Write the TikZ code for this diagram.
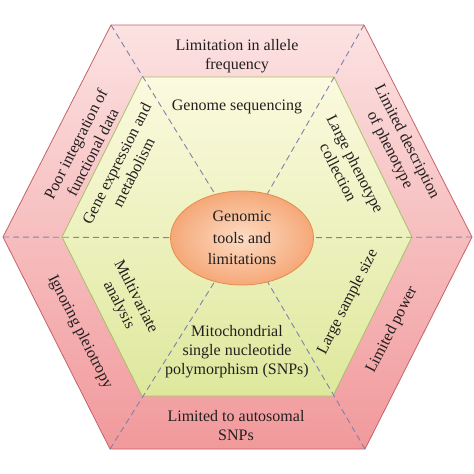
\documentclass[tikz,border=0pt]{standalone}
\usepackage{fontspec}
\setmainfont{Liberation Serif}
\usetikzlibrary{%
  shapes,% ellipse
  positioning%
}
\definecolor{ringtop}{HTML}{FCE2E2}
\definecolor{ringbot}{HTML}{F1999B}
\definecolor{ringline}{HTML}{C4626A}
\definecolor{coretop}{HTML}{FBFADF}
\definecolor{corebot}{HTML}{DEE89C}
\definecolor{coreline}{HTML}{A6C06A}
\definecolor{eggin}{HTML}{FDDCC4}
\definecolor{eggout}{HTML}{F5A878}
\definecolor{eggline}{HTML}{E58C4A}
\definecolor{dashcol}{HTML}{7C82AE}
\definecolor{ink}{HTML}{231F20}

\begin{document}
\begin{tikzpicture}[
  x=1pt, y=-1pt,
  font=\fontsize{16}{19}\selectfont,
  text=ink,
  lbl/.style={align=center, inner sep=0pt},
  sep/.style={draw=dashcol, line width=0.9pt, dash pattern=on 6pt off 4pt},
]
\useasboundingbox (0,0) rectangle (474,474);

\foreach \n/\x/\y in {0/3/237,1/111/25,2/364/25,3/472/237,4/365/449,5/110/449} {
  \coordinate (o\n) at (\x,\y);
}
\foreach \n/\x/\y in {0/62/237,1/142/77,2/334/77,3/412/237,4/333/396,5/142/396} {
  \coordinate (i\n) at (\x,\y);
}

% outer ring and inner hexagon
\draw[top color=ringtop, bottom color=ringbot, draw=ringline, line width=0.8pt]
  (o0) -- (o1) -- (o2) -- (o3) -- (o4) -- (o5) -- cycle;
\draw[top color=coretop, bottom color=corebot, draw=coreline, line width=0.8pt]
  (i0) -- (i1) -- (i2) -- (i3) -- (i4) -- (i5) -- cycle;

\node[ellipse, draw=eggline, line width=0.8pt, inner color=eggin, outer color=eggout,
  minimum width=143pt, minimum height=94pt, lbl,
  font=\fontsize{16}{21.5}\selectfont] (core) at (242,238)
  {Genomic\\tools and\\limitations};

\foreach \n in {0,...,5} {
  \draw[sep] (o\n) -- (core);
}

% outer ring labels
\node[lbl] (allele) at (237,56) {Limitation in allele\\frequency};
\node[lbl, rotate=-63] (descr) at (398,146) {Limited description\\of phenotype};
\node[lbl, rotate=63] (power) at (392,330) {Limited power};
\node[lbl] (autos) at (236,426) {Limited to autosomal\\SNPs};
\node[lbl, rotate=-63] (pleio) at (80,332) {Ignoring pleiotropy};
\node[lbl, rotate=63] (integr) at (84,148) {Poor integration of\\functional data};

% inner labels
\node[lbl] (seq) at (237,107) {Genome sequencing};
\node[lbl, rotate=-63] (pheno) at (347,168) {Large phenotype\\collection};
\node[lbl, rotate=63] (sample) at (348,302) {Large sample size};
\node[lbl] (mito) at (237,352) {Mitochondrial\\single nucleotide\\polymorphism (SNPs)};
\node[lbl, rotate=-63] (multi) at (127,301) {Multivariate\\analysis};
\node[lbl, rotate=63] (expr) at (125,168) {Gene expression and\\metabolism};

\end{tikzpicture}
\end{document}
